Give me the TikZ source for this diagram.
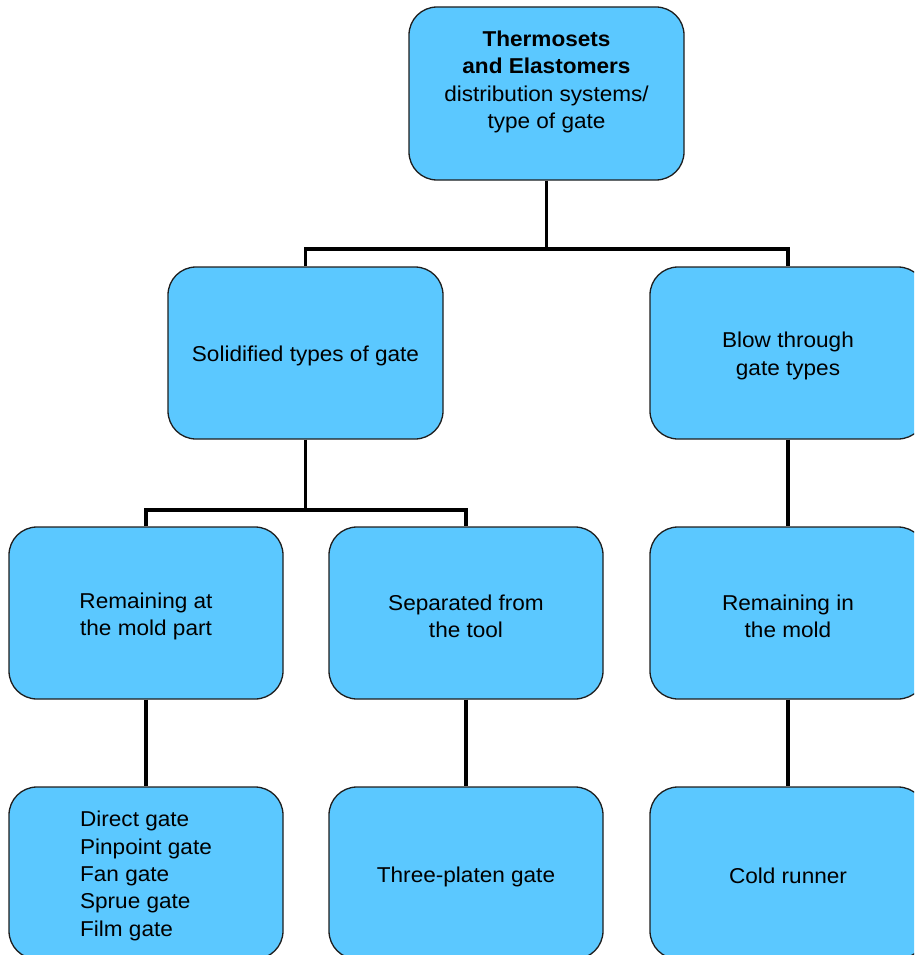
\documentclass[tikz,border=0pt]{standalone}
\usepackage{fontspec}
\setmainfont[FakeStretch=1.05]{Liberation Sans}
\definecolor{boxfill}{RGB}{91,200,255}
\definecolor{boxline}{RGB}{30,30,30}
\begin{document}
\begin{tikzpicture}[x=1pt,y=-1pt,
  gatebox/.style={draw=boxline, fill=boxfill, line width=1.3pt,
    rounded corners=28pt, minimum width=275pt, minimum height=172pt,
    inner sep=0pt},
  label/.style={inner sep=0pt, align=center,
    font=\fontsize{21.5}{27.3}\selectfont},
  conn/.style={draw=black, line width=3.6pt}]
\useasboundingbox (0,0) rectangle (914,955);
\clip (0,0) rectangle (914,955);

% top level
\node[gatebox, minimum height=173pt] (top) at (546.5,93.5) {};
\node[label] (toptext) at (546.5,82)
  {\textbf{Thermosets}\\ \textbf{and Elastomers}\\ distribution systems/\\ type of gate};

% second level
\node[gatebox] (solid) at (305.5,353) {};
\node[label] (solidtext) at ([yshift=-3pt]solid.center) {Solidified types of gate};
\node[gatebox, minimum width=276pt] (blow) at (788,353) {};
\node[label] (blowtext) at ([yshift=-3pt]blow.center) {Blow through\\ gate types};

% third level
\node[gatebox, minimum width=274pt] (remain) at (146,613) {};
\node[label] (remaintext) at ([yshift=-3.5pt]remain.center) {Remaining at\\ the mold part};
\node[gatebox, minimum width=274pt] (sep) at (466,613) {};
\node[label] (septext) at ([yshift=-3pt]sep.center) {Separated from\\ the tool};
\node[gatebox, minimum width=276pt] (inmold) at (788,613) {};
\node[label] (inmoldtext) at ([yshift=-3pt]inmold.center) {Remaining in\\ the mold};

% fourth level
\node[gatebox, minimum width=274pt] (list) at (146,873) {};
\node[label, align=left] (listtext) at ([yshift=-3pt]list.center)
  {Direct gate\\ Pinpoint gate\\ Fan gate\\ Sprue gate\\ Film gate};
\node[gatebox, minimum width=274pt] (three) at (466,873) {};
\node[label] (threetext) at ([yshift=-3.5pt]three.center) {Three-platen gate};
\node[gatebox, minimum width=276pt] (cold) at (788,873) {};
\node[label] (coldtext) at ([yshift=-2.5pt]cold.center) {Cold runner};

% connectors
\coordinate (j1) at (546.5,249);
\coordinate (j2) at (305.5,510);
\draw[conn] (top.south) -- (j1);
\draw[conn] (solid.north) |- (j1) -| (blow.north);
\draw[conn] (solid.south) -- (j2);
\draw[conn] (remain.north) |- (j2) -| (sep.north);
\draw[conn] (blow.south) -- (inmold.north);
\draw[conn] (remain.south) -- (list.north);
\draw[conn] (sep.south) -- (three.north);
\draw[conn] (inmold.south) -- (cold.north);
\end{tikzpicture}
\end{document}
